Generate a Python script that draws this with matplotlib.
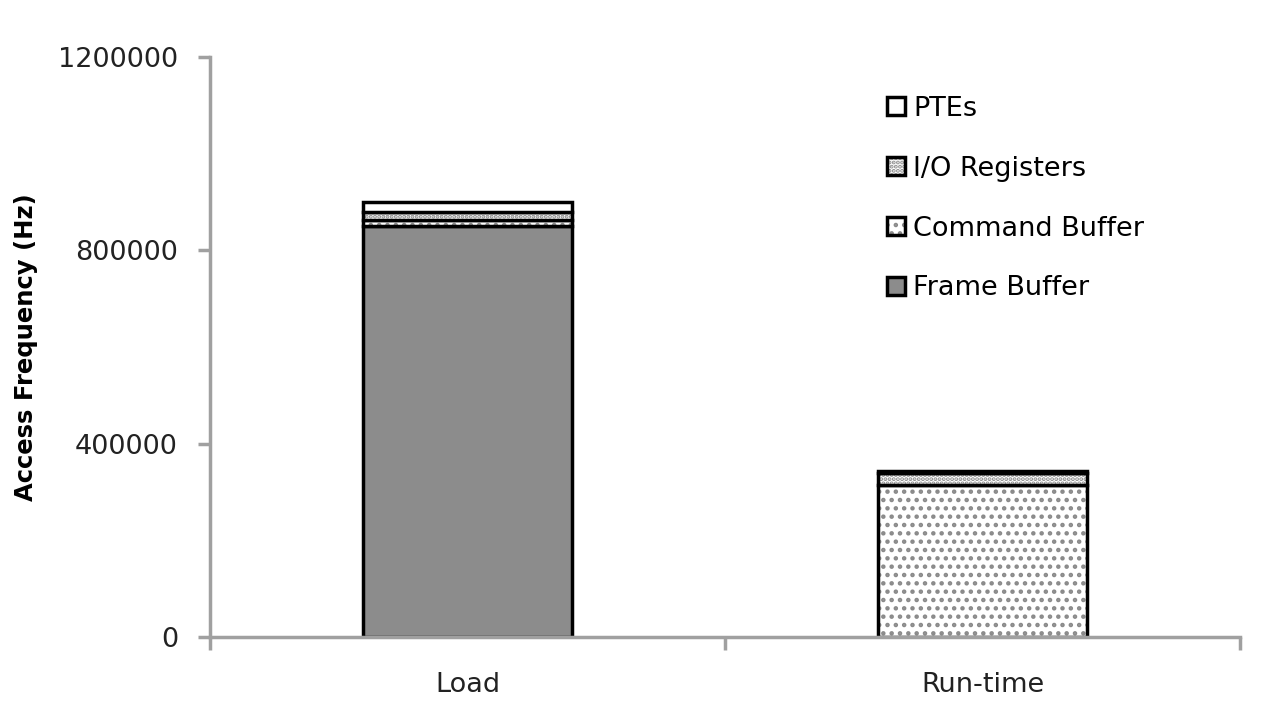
import matplotlib
matplotlib.use("Agg")
import matplotlib.pyplot as plt
from matplotlib.patches import Patch
import numpy as np

categories = ["Load", "Run-time"]
series_names = ["Frame Buffer", "Command Buffer", "I/O Registers", "PTEs"]
frame_buffer = [850000, 0]
command_buffer = [12000, 315000]
io_registers = [18000, 25000]
ptes = [20000, 3000]
y_ticks = [0, 400000, 800000, 1200000]

plt.rcParams['font.family'] = ['DejaVu Sans']
plt.rcParams['hatch.linewidth'] = 2.0

fig = plt.figure(figsize=(12.72, 7.15), dpi=100)
ax = fig.add_axes([210/1272, 1-637/715, 1030/1272, 580/715])

x = np.arange(len(categories))
styles = [
    dict(facecolor="#8c8c8c", hatch=None),
    dict(facecolor="white", hatch=".."),
    dict(facecolor="white", hatch="...."),
    dict(facecolor="white", hatch=None),
]
data = [frame_buffer, command_buffer, io_registers, ptes]
bottom = np.zeros(len(categories))
handles = []
for name, vals, st in zip(series_names, data, styles):
    vals = np.array(vals, dtype=float)
    ax.bar(x, vals, width=0.405, bottom=bottom, facecolor=st["facecolor"],
           edgecolor="#8a8a8a" if st["hatch"] else "black",
           linewidth=0, hatch=st["hatch"])
    ax.bar(x, vals, width=0.405, bottom=bottom, facecolor="none",
           edgecolor="black", linewidth=2.5)
    fill = Patch(facecolor=st["facecolor"], hatch=st["hatch"],
                 edgecolor="#8a8a8a" if st["hatch"] else st["facecolor"], linewidth=0)
    outline = Patch(facecolor="none", edgecolor="black", linewidth=2.5)
    handles.append((fill, outline))
    bottom += vals

ax.set_xlim(-0.5, 1.5)
ax.set_ylim(0, 1200000)
ax.set_yticks(y_ticks)
ax.set_yticklabels([str(v) for v in y_ticks], fontsize=19.5, color="#222222")
ax.set_xticks(x)
ax.set_xticklabels(categories, fontsize=19.5, color="#222222")
ax.set_xticks([-0.5, 0.5, 1.5], minor=True)
ax.tick_params(axis="x", which="major", length=0, pad=25)
ax.tick_params(axis="x", which="minor", length=9, width=2.5, color="#a0a0a0", direction="out")
ax.tick_params(axis="y", length=9, width=2.5, color="#a0a0a0", pad=14)
for s in ["top", "right"]:
    ax.spines[s].set_visible(False)
for s in ["left", "bottom"]:
    ax.spines[s].set_color("#a0a0a0")
    ax.spines[s].set_linewidth(2.5)
ax.set_ylabel("Access Frequency (Hz)", fontsize=17.5, fontweight="bold", labelpad=14)

leg = ax.legend(handles[::-1], series_names[::-1], loc="upper left",
                bbox_to_anchor=(0.634, 0.975), frameon=False, fontsize=19.5,
                handlelength=0.65, handleheight=0.65, labelspacing=1.25,
                handletextpad=0.3)

fig.savefig("out.png", dpi=100)
